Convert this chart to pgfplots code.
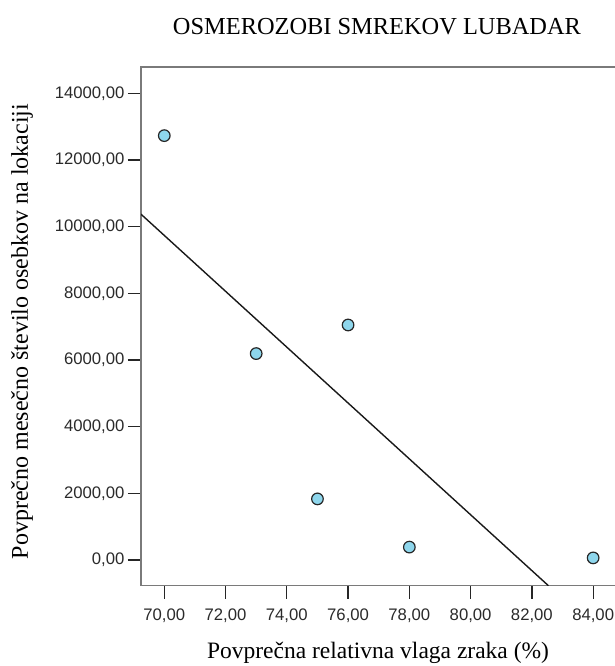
\documentclass[border=0pt]{standalone}
\usepackage{pgfplots}
\pgfplotsset{compat=1.18}
\usepackage{fontspec}
\setmainfont{Liberation Serif}
\newfontfamily\arialfont{Liberation Sans}
\definecolor{ptfill}{HTML}{8ED6EC}
\definecolor{framegray}{HTML}{7A7A7A}
\definecolor{ticktext}{HTML}{2A2A2A}
\begin{document}
\begin{tikzpicture}[x=1pt,y=1pt]
\useasboundingbox (0,0) rectangle (615,666);
\begin{axis}[
  at={(141pt,80.3pt)}, anchor=south west,
  scale only axis, width=484pt, height=518.4pt,
  xmin=69.24, xmax=85.04, ymin=-771, ymax=14780,
  xtick={70,72,...,84}, ytick={0,2000,...,14000},
  scaled x ticks=false, scaled y ticks=false,
  tick align=outside, major tick length=13pt,
  tick style={black!85, line width=1.3pt},
  axis line style={framegray, line width=1.6pt},
  xtick pos=bottom, ytick pos=left,
  ticklabel style={font=\arialfont\fontsize{16.7}{16.7}\selectfont, text=ticktext},
  /pgf/number format/assume math mode=true,
  /pgf/number format/.cd, fixed, fixed zerofill, precision=2, use comma, 1000 sep={},
  /pgfplots/.cd,
  xticklabel style={yshift=-7pt},
  yticklabel style={xshift=0pt},
  clip=true,
]
\addplot[only marks, mark=*, mark size=5.8pt, mark options={fill=ptfill, draw=black!85, line width=1.2pt}]
  coordinates {(70,12730) (73,6192) (75,1833) (76,7050) (78,387) (84,63)};
\addplot[black!90, line width=1.4pt] coordinates {(69.24,10373) (82.54,-771)};
\end{axis}
\node[font=\fontsize{24.4}{24.4}\selectfont] at (377,639.3) {OSMEROZOBI SMREKOV LUBADAR};
\node[font=\fontsize{23.5}{23.5}\selectfont] at (378,13.5) {Povprečna relativna vlaga zraka (\%)};
\node[font=\fontsize{24}{24}\selectfont, rotate=90] at (22,334.5) {Povprečno mesečno število osebkov na lokaciji};
\end{tikzpicture}
\end{document}
